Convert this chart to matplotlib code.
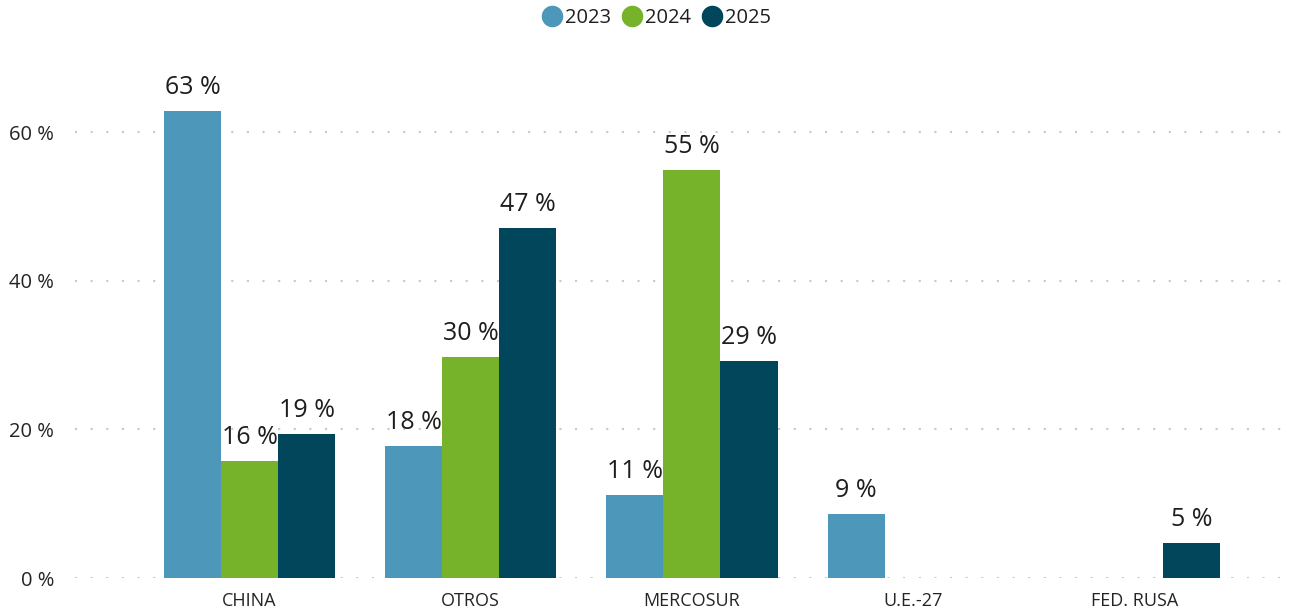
import matplotlib
matplotlib.use("Agg")
import matplotlib.pyplot as plt
from matplotlib.lines import Line2D
import numpy as np

plt.rcParams["font.family"] = ["Open Sans", "DejaVu Sans"]

categories = ["CHINA", "OTROS", "MERCOSUR", "U.E.-27", "FED. RUSA"]
years = ["2023", "2024", "2025"]
v2023 = [62.8, 17.8, 11.2, 8.6, np.nan]
v2024 = [15.7, 29.7, 54.9, np.nan, np.nan]
v2025 = [19.4, 47.1, 29.2, np.nan, 4.7]
yticks = [0, 20, 40, 60]

colors = ["#4D97BA", "#77B32A", "#01465B"]
TXT = "#252423"

fig = plt.figure(figsize=(12.95, 6.11), dpi=100)
ax = fig.add_axes([75 / 1295, 33 / 611, 1212 / 1295, 518 / 611])

x = np.arange(len(categories))
w = 0.258
for i, (vals, c, yr) in enumerate(zip([v2023, v2024, v2025], colors, years)):
    pos = x + (i - 1) * w
    arr = np.array(vals, dtype=float)
    ok = ~np.isnan(arr)
    ax.bar(pos[ok], arr[ok], width=w, color=c, zorder=3)
    for px, v in zip(pos[ok], arr[ok]):
        ax.annotate(f"{v:.0f} %", (px, v), xytext=(0, 8), textcoords="offset points",
                    ha="center", va="bottom", fontsize=18, color="#1e1e1e", zorder=4)

ax.set_xlim(-0.789, 4.69)
ax.set_ylim(0, 69.7)
ax.set_yticks(yticks)
ax.set_yticklabels([f"{t} %" for t in yticks], fontsize=14.5, color=TXT)
ax.set_xticks(x)
ax.set_xticklabels(categories, fontsize=13, color=TXT)
ax.tick_params(axis="both", length=0)
ax.tick_params(axis="y", pad=15)
ax.tick_params(axis="x", pad=10)
for s in ax.spines.values():
    s.set_visible(False)
for t in yticks:
    ax.axhline(t, color="#c8c8c8", linewidth=1.5, linestyle=(0, (1, 6.5)), zorder=1)

handles = [Line2D([], [], marker="o", linestyle="", markersize=14.5, color=c) for c in colors]
fig.legend(handles, years, loc="upper center", bbox_to_anchor=(0.507, 1.016), ncol=3,
           frameon=False, fontsize=14.5, handlelength=1.0, handletextpad=0.15,
           columnspacing=0.55, labelcolor="#1e1e1e")

fig.savefig("out.png", dpi=100)
